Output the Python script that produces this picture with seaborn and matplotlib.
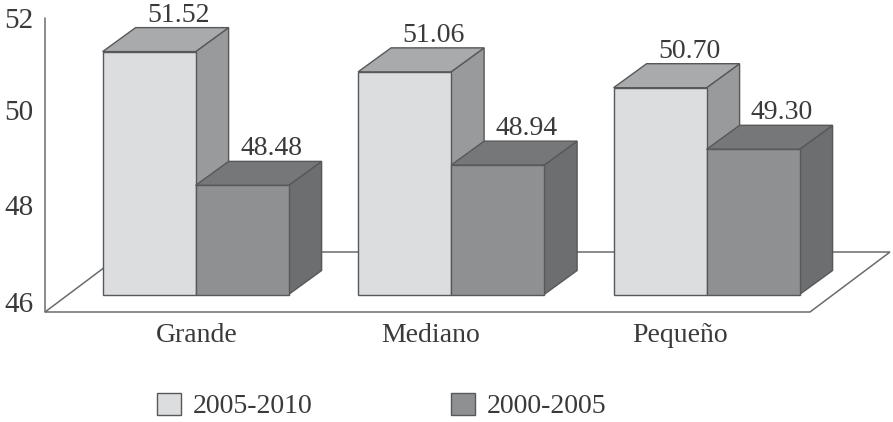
import pandas as pd
import matplotlib.pyplot as plt
from matplotlib.patches import Polygon
import seaborn as sns

# Data
categories = ["Grande", "Mediano", "Pequeño"]
periods = ["2005-2010", "2000-2005"]
values_2005_2010 = [51.52, 51.06, 50.70]
values_2000_2005 = [48.48, 48.94, 49.30]
y_ticks = [46, 48, 50, 52]

W, H = 893, 422
PX_X = 255.5    # pixels per category
PX_Y = 44.0     # pixels per value unit, front plane
DEPTH_X, DEPTH_Y = 33, 24
EDGE = "#57585a"
TEXT = "#3a3a3c"
FONT = 20

front_colors = ["#dcddde", "#8f9091"]
side_colors = ["#999a9c", "#6d6e70"]
top_colors = ["#a9aaac", "#767779"]

sns.set_style("white")
plt.rcParams['font.family'] = ['Liberation Serif', 'DejaVu Serif']

data = pd.DataFrame({
    "category": categories * 2,
    "period": [periods[0]] * 3 + [periods[1]] * 3,
    "value": values_2005_2010 + values_2000_2005,
})

fig = plt.figure(figsize=(W / 100, H / 100), dpi=100)
ax = fig.add_axes([0, 0, 1, 1])

sns.barplot(data=data, x="category", y="value", hue="period", hue_order=periods,
            palette=front_colors, width=186 / PX_X, gap=0, saturation=1,
            edgecolor=EDGE, linewidth=1, ax=ax, zorder=5)

ax.set_xlim(-195.6 / PX_X, (W - 195.6) / PX_X)
ax.set_ylim(46 - (H - 294.5) / PX_Y, 46 + 294.5 / PX_Y)


def px(x, y):
    """Pixel position in the reference to axes fraction."""
    return x / W, 1 - y / H


# Floor and left axis line
floor = Polygon([px(45, 312), px(810, 312), px(890, 252), px(125, 252)],
                closed=True, facecolor="white", edgecolor="#6a6b6d", linewidth=1.1,
                transform=ax.transAxes, zorder=1)
ax.add_patch(floor)
ax.plot(*zip(px(45, 18), px(45, 312)), color="#6a6b6d", linewidth=1.1,
        transform=ax.transAxes, zorder=1)

# Extrude each seaborn bar into a box
dx = DEPTH_X / PX_X
dy = DEPTH_Y / PX_Y
for h, container in enumerate(ax.containers):
    for bar in container:
        value = bar.get_height()
        bar.set_y(46)
        bar.set_height(value - 46)
        x0, x1 = bar.get_x(), bar.get_x() + bar.get_width()
        z = 3 + h
        bar.set_zorder(z + 0.5)
        ax.add_patch(Polygon([(x1, 46), (x1 + dx, 46 + dy), (x1 + dx, value + dy), (x1, value)],
                             facecolor=side_colors[h], edgecolor=EDGE, linewidth=1, zorder=z))
        ax.add_patch(Polygon([(x0, value), (x0 + dx, value + dy), (x1 + dx, value + dy), (x1, value)],
                             facecolor=top_colors[h], edgecolor=EDGE, linewidth=1, zorder=z))
        ax.annotate(f"{value:.2f}", (x0 + bar.get_width() / 2, value + dy),
                    xytext=(29 * 0.72, 0), textcoords="offset points", ha="center", va="bottom",
                    fontsize=FONT, color=TEXT, zorder=10)

# Tick labels sit on the back wall scale
tick_px = [305, 208, 113, 21]
for tick, y in zip(y_ticks, tick_px):
    ax.text(*px(19, y), str(tick), transform=ax.transAxes, ha="center", va="center",
            fontsize=21, color=TEXT)

label_px = [197, 431, 680]
for label, x in zip(categories, label_px):
    ax.text(*px(x, 335), label, transform=ax.transAxes, ha="center", va="center",
            fontsize=FONT, color=TEXT)

handles, labels = ax.get_legend_handles_labels()
ax.legend(handles, labels, ncols=2, loc="center left", bbox_to_anchor=px(151, 406),
          frameon=False, fontsize=FONT, labelcolor=TEXT, handlelength=0.87, handleheight=0.87,
          handletextpad=0.42, columnspacing=5.0, borderpad=0.2, borderaxespad=0)

ax.set_axis_off()
fig.savefig("out.png", dpi=100)
